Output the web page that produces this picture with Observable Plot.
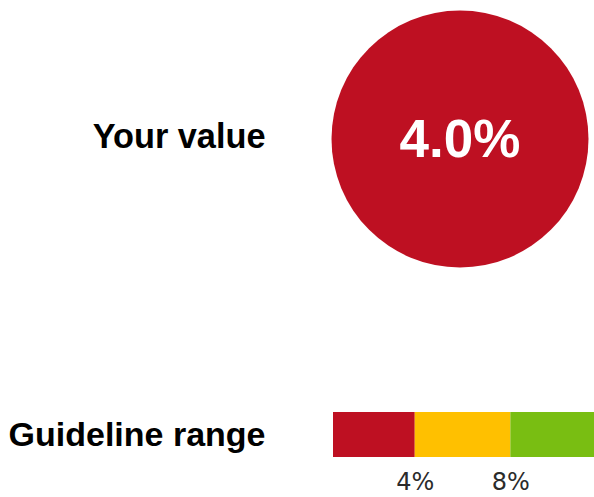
<!DOCTYPE html>
<html>
<head>
<meta charset="utf-8">
<script src="https://cdn.jsdelivr.net/npm/d3@7"></script>
<script src="https://cdn.jsdelivr.net/npm/@observablehq/plot@0.6"></script>
<style>
  html, body { margin: 0; padding: 0; background: #fff; }
  #chart { width: 594px; height: 497px; display: flex; flex-direction: column; }
  svg { display: block; }
</style>
</head>
<body>
<div id="chart"></div>
<script>
// ---- data ----
const valueLabel = "Your value";
const yourValue = 4.0;
const valueBand = "low";
const rangeLabel = "Guideline range";
const bandNames = ["low", "mid", "high"];
const bandStarts = [0, 4, 8];
const bandEnds = [4, 8, 12];
const rangeTicks = [4, 8];

const bandColors = ["#BE1022", "#FFC000", "#79BE12"];
const font = "'Liberation Sans', Arial, sans-serif";

const bands = bandNames.map((name, i) => ({name, x1: bandStarts[i], x2: bandEnds[i], row: rangeLabel}));

// ---- top: your value ----
const valuePlot = Plot.plot({
  width: 594,
  height: 277,
  marginLeft: 331,
  marginRight: 6,
  marginTop: 0,
  marginBottom: 0,
  style: {fontFamily: font, background: "#fff", overflow: "visible"},
  x: {axis: null},
  y: {type: "band", domain: [valueLabel], padding: 0, axis: null},
  color: {domain: bandNames, range: bandColors},
  marks: [
    Plot.axisY({tickSize: 0, tickPadding: 66, fontSize: 34.3, fontWeight: "bold", fill: "#000", dy: -2, label: null}),
    Plot.dot([{v: yourValue, row: valueLabel, band: valueBand}], {
      y: "row", frameAnchor: "middle", r: 128.5, fill: "band", stroke: "none"
    }),
    Plot.text([{v: yourValue, row: valueLabel}], {
      y: "row", frameAnchor: "middle", text: d => d.v.toFixed(1) + "%",
      fill: "#fff", fontSize: 53, fontWeight: "bold", dy: 1
    })
  ]
});

// ---- bottom: guideline range ----
const rangePlot = Plot.plot({
  width: 594,
  height: 220,
  marginLeft: 333,
  marginRight: 0,
  marginTop: 135,
  marginBottom: 40,
  style: {fontFamily: font, background: "#fff", overflow: "visible"},
  x: {domain: [0.58, 11.5], axis: null},
  y: {type: "band", domain: [rangeLabel], padding: 0, axis: null},
  color: {domain: bandNames, range: bandColors},
  marks: [
    Plot.barX(bands, {x1: "x1", x2: "x2", y: "row", fill: "name", clip: true}),
    Plot.axisY({tickSize: 0, tickPadding: 68, fontSize: 34, fontWeight: "bold", fill: "#000", label: null}),
    Plot.axisX(rangeTicks, {tickSize: 0, tickPadding: 15, tickFormat: d => d + "%", fontSize: 24,
      fontFamily: "'DejaVu Sans', sans-serif", fill: "#2b2b2b", label: null})
  ]
});

document.getElementById("chart").append(valuePlot, rangePlot);
</script>
</body>
</html>
